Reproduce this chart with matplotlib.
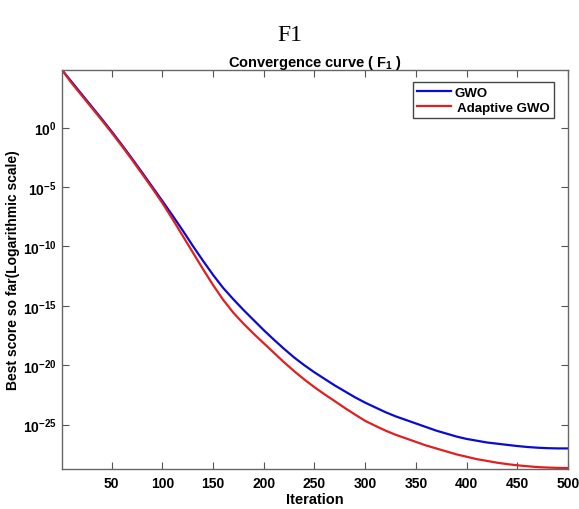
import numpy as np
import matplotlib
matplotlib.use("Agg")
import matplotlib.pyplot as plt
from matplotlib.ticker import FixedLocator, FuncFormatter, NullLocator

plt.rcParams['font.family'] = ['Liberation Sans', 'DejaVu Sans']
plt.rcParams['mathtext.fontset'] = 'custom'
plt.rcParams['mathtext.bf'] = 'Liberation Sans:bold'
plt.rcParams['mathtext.rm'] = 'Liberation Sans'

iters = [1, 10, 20, 30, 40, 50, 60, 70, 80, 90, 100, 110, 120, 130,
         140, 150, 160, 170, 180, 190, 200, 210, 220, 230, 240, 250,
         260, 270, 280, 290, 300, 310, 320, 330, 340, 350, 360, 370,
         380, 390, 400, 410, 420, 430, 440, 450, 460, 470, 480, 490, 500]

# log10 of best score so far
gwo_log = [4.85, 3.9, 2.85, 1.8, 0.75, -0.33, -1.45, -2.6, -3.78, -4.98,
           -6.18, -7.4, -8.65, -9.95, -11.2, -12.4, -13.5, -14.45,
           -15.35, -16.2, -17.05, -17.85, -18.62, -19.35, -20.0, -20.6,
           -21.15, -21.7, -22.2, -22.7, -23.15, -23.55, -23.95, -24.3,
           -24.6, -24.9, -25.2, -25.5, -25.75, -26.0, -26.2, -26.35,
           -26.5, -26.6, -26.7, -26.8, -26.88, -26.94, -26.98, -27.0, -27.0]
agwo_log = [4.85, 3.8, 2.75, 1.7, 0.65, -0.43, -1.55, -2.7, -3.9, -5.1,
            -6.35, -7.7, -9.1, -10.5, -11.9, -13.25, -14.5, -15.58,
            -16.5, -17.35, -18.15, -18.95, -19.75, -20.5, -21.2, -21.85,
            -22.45, -23.02, -23.6, -24.15, -24.68, -25.1, -25.5, -25.85,
            -26.15, -26.45, -26.75, -27.0, -27.25, -27.5, -27.7, -27.9,
            -28.05, -28.2, -28.32, -28.42, -28.5, -28.57, -28.61, -28.64,
            -28.65]

xtick_vals = [50, 100, 150, 200, 250, 300, 350, 400, 450, 500]
ytick_exps = [-25, -20, -15, -10, -5, 0]

gwo = 10.0 ** np.array(gwo_log)
agwo = 10.0 ** np.array(agwo_log)

fig = plt.figure(figsize=(5.79, 5.10), dpi=100)
ax = fig.add_axes([0.107, 0.078, 0.874, 0.783])

ax.semilogy(iters, gwo, color='#0a0ad0', lw=1.6, label='GWO')
ax.semilogy(iters, agwo, color='#e02020', lw=1.6, label=' Adaptive GWO')

ax.set_xlim(1, 500)
ax.set_ylim(10 ** -28.75, 10 ** max(gwo_log))

ax.xaxis.set_major_locator(FixedLocator(xtick_vals))
ax.yaxis.set_major_locator(FixedLocator([10.0 ** e for e in ytick_exps]))
ax.yaxis.set_minor_locator(NullLocator())
ax.yaxis.set_major_formatter(FuncFormatter(
    lambda v, p: r'$\mathbf{10^{%d}}$' % int(round(np.log10(v)))))

ax.tick_params(direction='in', top=True, right=True, length=5,
               width=0.8, color='#555555', labelsize=10)
ax.tick_params(axis='y', pad=4)
ax.tick_params(axis='x', pad=5)
for lab in ax.get_xticklabels():
    lab.set_fontweight('bold')
for s in ax.spines.values():
    s.set_color('#666666')
    s.set_linewidth(1.0)

ax.set_xlabel('Iteration', fontsize=10.5, fontweight='bold', labelpad=1)
ax.set_ylabel('Best score so far(Logarithmic scale)', fontsize=10,
              fontweight='bold', labelpad=2)
ax.set_title(r'Convergence curve ( $\mathbf{F_1}$ )', fontsize=10.5,
             fontweight='bold', pad=3)

fig.text(0.5, 0.93, 'F1', family='Liberation Serif', fontsize=17,
         ha='center', va='center')

leg = ax.legend(loc='upper right', fontsize=9.5, handlelength=2.6,
                borderpad=0.3, labelspacing=0.2, handletextpad=0.2,
                fancybox=False, framealpha=1, edgecolor='#444444',
                bbox_to_anchor=(0.985, 0.985))
for t in leg.get_texts():
    t.set_fontweight('bold')

fig.savefig('out.png', dpi=100)
